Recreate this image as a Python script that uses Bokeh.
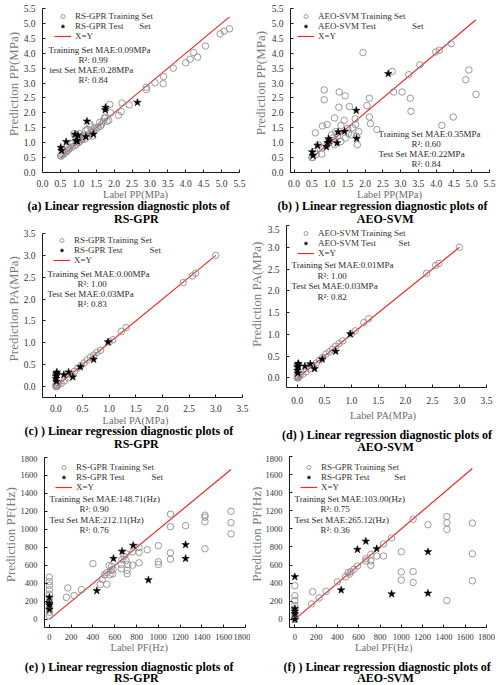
import math

from bokeh.plotting import figure
from bokeh.layouts import column, row
from bokeh.models import (Range1d, Label, Legend, LegendItem,
                          SingleIntervalTicker, NumeralTickFormatter)
from bokeh.embed import file_html
from bokeh.resources import INLINE

# ---------------- PP (MPa) : RS-GPR ----------------
pp_gpr_train_label = [4.96, 5.07, 5.22, 4.55, 4.22, 4.33, 4.12, 4.00, 3.65, 3.38,
                      3.37, 3.14, 2.90, 2.90, 2.42, 2.22, 2.20, 2.12, 1.88, 1.90,
                      1.85, 1.80, 1.75, 1.70, 1.65, 1.62, 1.55, 1.50, 1.45, 1.42,
                      1.38, 1.35, 1.32, 1.30, 1.28, 1.25, 1.20, 1.15, 1.12, 1.10,
                      1.05, 1.02, 1.00, 0.98, 0.95, 0.92, 0.90, 0.88, 0.85, 0.82,
                      0.80, 0.75, 0.72, 0.68, 0.65, 0.60, 0.55, 0.52, 0.50, 0.58,
                      0.70, 1.08, 1.18, 1.40, 1.60, 1.73]
pp_gpr_train_pred = [4.65, 4.74, 4.82, 4.24, 4.02, 3.87, 3.80, 3.68, 3.50, 3.22,
                     2.98, 3.01, 2.86, 2.78, 2.27, 2.33, 2.04, 1.92, 2.28, 2.00,
                     1.75, 1.72, 1.85, 1.72, 1.62, 1.55, 1.52, 1.45, 1.50, 1.40,
                     1.35, 1.55, 1.62, 1.30, 1.22, 1.45, 1.40, 1.25, 1.15, 1.10,
                     1.05, 1.30, 1.00, 1.15, 0.95, 1.22, 0.90, 1.30, 1.00, 0.85,
                     0.95, 0.80, 0.75, 0.72, 0.68, 0.62, 0.60, 0.55, 0.56, 0.75,
                     0.85, 1.20, 1.12, 1.22, 1.68, 1.82]
pp_gpr_test_label = [0.51, 0.53, 0.66, 0.91, 0.99, 0.94, 0.97, 1.24, 1.21, 1.42, 1.75, 1.76, 2.65]
pp_gpr_test_pred = [0.84, 0.74, 1.03, 1.28, 1.25, 1.06, 1.06, 1.72, 1.20, 1.28, 2.10, 2.18, 2.35]

# ---------------- PP (MPa) : AEO-SVM ----------------
pp_svm_train_label = [1.94, 2.76, 3.23, 3.54, 3.99, 4.09, 4.42, 4.92, 4.83, 5.12,
                      4.48, 4.16, 3.27, 3.29, 3.04, 2.80, 2.33, 2.15, 2.12, 2.12,
                      2.05, 1.76, 1.78, 1.82, 1.73, 1.72, 1.56, 1.44, 1.27, 1.26,
                      0.85, 0.85, 0.80, 0.60, 0.93, 1.14, 1.32, 1.41, 1.51, 1.62,
                      1.65, 1.05, 1.09, 1.17, 1.23, 1.00, 0.93, 0.80, 0.78, 0.69,
                      0.58, 0.53, 0.50, 0.62, 1.14, 1.32, 1.44, 1.53]
pp_svm_train_pred = [4.02, 3.39, 3.28, 3.61, 4.04, 4.10, 4.32, 3.44, 3.11, 2.62,
                     1.86, 1.58, 2.49, 2.05, 2.70, 2.70, 1.44, 1.64, 1.86, 2.49,
                     2.24, 1.22, 0.93, 1.37, 1.61, 1.80, 2.21, 2.57, 2.70, 2.19,
                     2.77, 2.44, 1.56, 1.33, 1.61, 1.83, 1.58, 1.75, 1.48, 1.26,
                     1.50, 1.26, 1.15, 1.37, 1.24, 1.02, 0.93, 0.82, 0.62, 0.93,
                     0.71, 0.51, 0.50, 0.60, 0.93, 1.04, 1.15, 1.31]
pp_svm_test_label = [0.51, 0.53, 0.66, 0.91, 0.94, 0.97, 0.99, 1.21, 1.24, 1.42, 1.75, 1.76, 2.65]
pp_svm_test_pred = [0.69, 0.57, 0.91, 0.86, 1.00, 1.13, 1.06, 0.99, 1.36, 1.38, 2.08, 1.14, 3.31]

# ---------------- PA (MPa) : RS-GPR ----------------
pa_gpr_train_label = [0.00, 0.01, 0.02, 0.00, 0.03, 0.05, 0.10, 0.16, 0.23, 0.29,
                      0.35, 0.41, 0.47, 0.53, 0.59, 0.65, 0.71, 0.77, 0.84, 1.00,
                      1.07, 1.23, 1.32, 2.39, 2.56, 2.62, 3.00]
pa_gpr_train_pred = [0.00, 0.01, 0.00, 0.04, 0.03, 0.05, 0.07, 0.13, 0.20, 0.27,
                     0.35, 0.42, 0.48, 0.54, 0.61, 0.67, 0.72, 0.78, 0.83, 1.02,
                     1.07, 1.26, 1.35, 2.38, 2.53, 2.59, 3.00]
pa_gpr_test_label = [0.00, 0.01, 0.02, 0.00, 0.01, 0.02, 0.15, 0.24, 0.32, 0.46, 0.71, 0.98]
pa_gpr_test_pred = [0.24, 0.30, 0.33, 0.18, 0.12, 0.27, 0.27, 0.33, 0.22, 0.45, 0.62, 1.02]

# ---------------- PA (MPa) : AEO-SVM ----------------
pa_svm_train_label = [0.00, 0.01, 0.02, 0.00, 0.03, 0.05, 0.10, 0.16, 0.23, 0.29,
                      0.35, 0.41, 0.47, 0.53, 0.59, 0.65, 0.71, 0.77, 0.84, 1.00,
                      1.07, 1.23, 1.32, 2.39, 2.56, 2.62, 3.00]
pa_svm_train_pred = [0.00, 0.02, 0.01, 0.05, 0.03, 0.06, 0.09, 0.14, 0.21, 0.28,
                     0.34, 0.41, 0.47, 0.55, 0.60, 0.66, 0.73, 0.79, 0.85, 1.01,
                     1.08, 1.27, 1.36, 2.40, 2.58, 2.63, 3.00]
pa_svm_test_label = [0.00, 0.01, 0.02, 0.00, 0.01, 0.02, 0.14, 0.24, 0.32, 0.46, 0.71, 0.98]
pa_svm_test_pred = [0.25, 0.31, 0.33, 0.17, 0.11, 0.27, 0.27, 0.32, 0.21, 0.43, 0.61, 1.01]

# ---------------- PF (Hz) : RS-GPR ----------------
pf_gpr_train_label = [0, 0, 0, 0, 0, 0, 0, 0, 0, 0,
                      156, 169, 227, 294, 400, 467, 487, 505, 526, 526,
                      547, 556, 565, 571, 580, 585, 660, 660, 666, 684,
                      704, 704, 713, 713, 719, 764, 764, 823, 823, 823,
                      898, 1000, 1000, 1000, 1111, 1111, 1111, 1111, 1250, 1428,
                      1428, 1428, 1428, 1667, 1667, 1667]
pf_gpr_train_pred = [470, 420, 380, 330, 280, 230, 180, 130, 80, 40,
                     245, 350, 265, 330, 620, 390, 445, 495, 520, 390,
                     600, 495, 545, 590, 508, 556, 611, 563, 665, 702,
                     728, 654, 545, 508, 611, 750, 603, 746, 629, 801,
                     775, 819, 640, 611, 1170, 1031, 740, 670, 1042, 786,
                     1086, 1159, 1137, 1203, 1075, 951]
pf_gpr_test_label = [0, 0, 0, 0, 435, 588, 667, 769, 909, 1250, 1250]
pf_gpr_test_pred = [110, 160, 180, 245, 318, 676, 757, 823, 439, 830, 676]

# ---------------- PF (Hz) : AEO-SVM ----------------
pf_svm_train_label = [0, 0, 0, 0, 0, 0, 0, 0,
                      158, 167, 227, 294, 400, 476, 500, 513, 526, 556,
                      588, 667, 667, 714, 714, 714, 769, 833, 833, 909,
                      1000, 1000, 1000, 1111, 1111, 1111, 1250, 1428, 1428, 1428,
                      1428, 1667, 1667, 1667]
pf_svm_train_pred = [372, 262, 208, 153, 117, 60, 25, 0,
                     171, 306, 237, 310, 415, 470, 517, 500, 528, 554,
                     590, 670, 645, 718, 645, 597, 700, 700, 834, 900,
                     747, 525, 433, 528, 408, 1107, 1046, 1137, 1068, 995,
                     208, 1064, 725, 426]
pf_svm_test_label = [0, 0, 0, 0, 0, 435, 588, 667, 769, 909, 1250, 1250]
pf_svm_test_pred = [470, 117, 91, 62, 0, 324, 772, 863, 780, 280, 747, 288]

NB = "\u00a0"
SERIF = "Liberation Serif"
PANEL_W = 250
LEGEND_H = 32


def text_canvas(w, h):
    """A bare figure whose data space equals its pixel space (y downwards)."""
    f = figure(width=w, height=h, output_backend="svg", toolbar_location=None,
               title=None, x_range=Range1d(0, w), y_range=Range1d(h, 0),
               x_axis_type=None, y_axis_type=None, min_border=0)
    f.outline_line_color = None
    f.grid.visible = False
    return f


def make_panel(spec, tr_x, tr_y, te_x, te_y, legend_names, stats, xlabel, ylabel, caption):
    left, right, top, bottom = spec["frame"]
    ph, ch, yw = spec["plot_h"], spec["cap_h"], spec["ylab_w"]

    # --- y axis title, drawn rotated in its own strip ---
    ylab = text_canvas(yw, ph)
    ylab.add_layout(Label(x=spec["ylab_pos"][0], y=spec["ylab_pos"][1], text=ylabel,
                          angle=math.pi / 2, text_font=SERIF, text_font_size="13px",
                          text_color="#7a7a7a", text_align="center",
                          text_baseline="middle"))

    # --- scatter plot ---
    p = figure(width=PANEL_W - yw, height=ph, output_backend="svg", toolbar_location=None,
               title=None, x_range=Range1d(*spec["xr"]), y_range=Range1d(*spec["yr"]))
    p.min_border_left = left - yw
    p.min_border_right = PANEL_W - right
    p.min_border_top = top
    p.min_border_bottom = ph - bottom
    p.outline_line_color = None
    p.grid.visible = False

    for ax in (p.xaxis[0], p.yaxis[0]):
        ax.ticker = SingleIntervalTicker(interval=spec["tick"])
        ax.formatter = NumeralTickFormatter(format=spec["fmt"])
        ax.axis_line_color = "#1a1a1a"
        ax.major_tick_line_color = "#1a1a1a"
        ax.major_tick_in = 3
        ax.major_tick_out = 0
        ax.minor_tick_line_color = None
        ax.major_label_text_font = SERIF
        ax.major_label_text_font_size = spec["tick_font"]
        ax.major_label_text_color = "#333333"
    p.xaxis.major_label_standoff = spec["xstand"]
    p.yaxis.major_label_standoff = 3

    # y = x reference line across the label range
    lo = min(tr_x + te_x)
    hi = max(tr_x + te_x)
    r_line = p.line([lo, hi], [lo, hi], line_color="#f02828", line_width=1.2)
    r_tr = p.scatter(tr_x, tr_y, marker="circle", size=6.5, fill_color=None,
                     line_color="#8f8f8f", line_width=0.9)
    r_te = p.scatter(te_x, te_y, marker="star", size=8, fill_color="black",
                     line_color="black", line_width=0.5)

    lx, ly = spec["legend"]
    frame_h = bottom - top
    leg = Legend(items=[LegendItem(label=legend_names[0], renderers=[r_tr]),
                        LegendItem(label=legend_names[1], renderers=[r_te]),
                        LegendItem(label="X=Y", renderers=[r_line])],
                 location=(lx - left, frame_h - (ly - top) - LEGEND_H),
                 border_line_color=None, background_fill_alpha=0,
                 padding=0, margin=0, spacing=0,
                 glyph_width=17, glyph_height=10, label_height=10, label_standoff=4,
                 label_text_font=SERIF, label_text_font_size="9px",
                 label_text_color="#333333")
    p.add_layout(leg)

    for (sx, sy, txt) in stats:
        p.add_layout(Label(x=sx - left, y=bottom - sy, x_units="screen", y_units="screen",
                           text=txt, text_font=SERIF, text_font_size="9px",
                           text_color="#2a2a2a", text_align="left",
                           text_baseline="middle"))

    # --- x axis title and panel caption underneath ---
    cap = text_canvas(PANEL_W, ch)
    cap.add_layout(Label(x=xlabel[0], y=xlabel[1] - ph, text=xlabel[2],
                         text_font=SERIF, text_font_size="10.5px", text_color="#6e6e6e",
                         text_align="center", text_baseline="middle"))
    for (cx, cy, txt) in caption:
        cap.add_layout(Label(x=cx, y=cy - ph, text=txt, text_font=SERIF,
                             text_font_size="12px", text_font_style="bold",
                             text_color="black", text_align="center",
                             text_baseline="middle"))
    return column(row(ylab, p, spacing=0), cap, spacing=0)


CAP = "Linear regression diagnostic plots of"

pa = make_panel(
    dict(plot_h=189, cap_h=36, ylab_w=20, ylab_pos=(13, 87),
         frame=(37, 239, 8, 175), xr=(0, 5.5), yr=(0, 5.5), tick=0.5, fmt="0.0",
         tick_font="9.5px", xstand=3, legend=(49, 12)),
    pp_gpr_train_label, pp_gpr_train_pred, pp_gpr_test_label, pp_gpr_test_pred,
    ["RS-GPR Training Set", "RS-GPR Test" + NB * 7 + "Set"],
    [(43, 52, "Training Set MAE:0.09MPa"), (73, 62, "R²: 0.99"),
     (44, 72, "test Set MAE:0.28MPa"), (73, 82, "R²: 0.84")],
    (135, 194, "Label PP(MPa)"), "Prediction PP(MPa)",
    [(128.3, 205.5, "(a) " + CAP), (135.8, 218.5, "RS-GPR")])

pb = make_panel(
    dict(plot_h=189, cap_h=36, ylab_w=18, ylab_pos=(10, 86),
         frame=(36, 239, 8, 175), xr=(-0.1, 5.5), yr=(0, 5.5), tick=0.5, fmt="0.0",
         tick_font="9.5px", xstand=3, legend=(43, 12)),
    pp_svm_train_label, pp_svm_train_pred, pp_svm_test_label, pp_svm_test_pred,
    ["AEO-SVM Training Set", "AEO-SVM Test" + NB * 16 + "Set"],
    [(124, 136, "Training Set MAE:0.35MPa"), (157, 146.5, "R²: 0.60"),
     (124, 156, "Test Set MAE:0.22MPa"), (157, 166, "R²: 0.84")],
    (139, 194, "Label PP(MPa)"), "Prediction PP(MPa)",
    [(132, 205.7, "(b) ) " + CAP), (134.7, 218.3, "AEO-SVM")])

pc = make_panel(
    dict(plot_h=189, cap_h=41, ylab_w=20, ylab_pos=(13.3, 86.7),
         frame=(38, 242, 8, 175), xr=(-0.25, 3.5), yr=(-0.25, 3.5), tick=0.5, fmt="0.0",
         tick_font="9.5px", xstand=3, legend=(49, 11)),
    pa_gpr_train_label, pa_gpr_train_pred, pa_gpr_test_label, pa_gpr_test_pred,
    ["RS-GPR Training Set", "RS-GPR Test" + NB * 12 + "Set"],
    [(43, 51, "Training Set MAE:0.00MPa"), (73, 61, "R²: 1.00"),
     (43, 71.7, "Test Set MAE:0.03MPa"), (73, 81.7, "R²: 0.83")],
    (135, 195, "Label PA(MPa)"), "Prediction PA(MPa)",
    [(128.5, 205.7, "(c) ) " + CAP), (135.8, 218.3, "RS-GPR")])

pd_ = make_panel(
    dict(plot_h=181, cap_h=49, ylab_w=14, ylab_pos=(6, 77),
         frame=(32, 236, 0, 166), xr=(-0.2, 3.5), yr=(-0.22, 3.5), tick=0.5, fmt="0.0",
         tick_font="9.5px", xstand=5, legend=(43, 4.5)),
    pa_svm_train_label, pa_svm_train_pred, pa_svm_test_label, pa_svm_test_pred,
    ["AEO-SVM Training Set", "AEO-SVM Test" + NB * 10 + "Set"],
    [(37, 43.3, "Training Set MAE:0.01MPa"), (63, 54, "R²: 1.00"),
     (37, 64.3, "Test Set MAE:0.03MPa"), (63, 75, "R²: 0.82")],
    (132.5, 190, "Label PA(MPa)"), "Prediction PA(MPa)",
    [(136.7, 209.3, "(d) ) " + CAP), (135, 221.7, "AEO-SVM")])

pe = make_panel(
    dict(plot_h=187, cap_h=43, ylab_w=17, ylab_pos=(10, 85),
         frame=(38, 245, 2, 174), xr=(-45, 1800), yr=(-90, 1800), tick=200, fmt="0",
         tick_font="8.5px", xstand=2, legend=(49, 7)),
    pf_gpr_train_label, pf_gpr_train_pred, pf_gpr_test_label, pf_gpr_test_pred,
    ["RS-GPR Training Set", "RS-GPR Test" + NB * 12 + "Set"],
    [(43, 45, "Training Set MAE:148.71(Hz)"), (73, 55, "R²: 0.90"),
     (43, 66, "Test Set MAE:212.11(Hz)"), (73, 76, "R²: 0.76")],
    (138.7, 191.7, "Label PF(Hz)"), "Prediction PF(Hz)",
    [(128.8, 211.5, "(e) ) " + CAP), (135.8, 222.8, "RS-GPR")])

pf = make_panel(
    dict(plot_h=187, cap_h=43, ylab_w=12, ylab_pos=(5.5, 85),
         frame=(32, 236, 1, 174), xr=(-50, 1800), yr=(-90, 1800), tick=200, fmt="0",
         tick_font="8.5px", xstand=2, legend=(43, 7)),
    pf_svm_train_label, pf_svm_train_pred, pf_svm_test_label, pf_svm_test_pred,
    ["RS-GPR Training Set", "RS-GPR Test" + NB * 11 + "Set"],
    [(37, 45, "Training Set MAE:103.00(Hz)"), (63, 55, "R²: 0.75"),
     (37, 66, "Test Set MAE:265.12(Hz)"), (63, 76, "R²: 0.36")],
    (133.3, 191.7, "Label PF(Hz)"), "Prediction PF(Hz)",
    [(136.8, 211.5, "(f) ) " + CAP), (135, 222.8, "AEO-SVM")])

layout = column(row(pa, pb, spacing=0), row(pc, pd_, spacing=0),
                row(pe, pf, spacing=0), spacing=0)

open("out.html", "w").write(file_html(layout, INLINE))
